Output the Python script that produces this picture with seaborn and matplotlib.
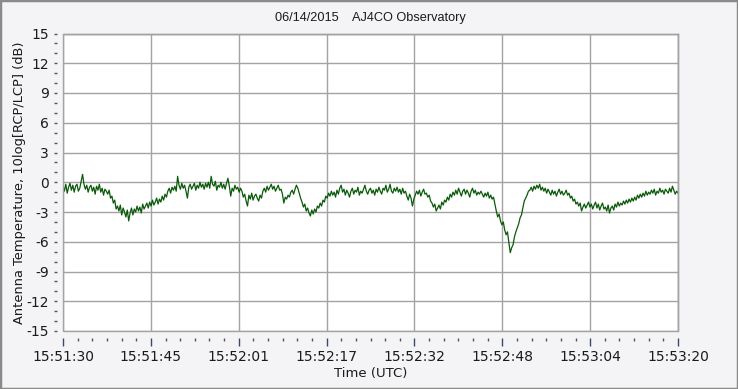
import numpy as np
import pandas as pd
import matplotlib
matplotlib.use("Agg")
import matplotlib.pyplot as plt
import seaborn as sns
from matplotlib.patches import Rectangle
from matplotlib.ticker import FixedLocator, MultipleLocator

# ---- data (one sample every 0.25 s) ----
step_s = 0.25
db_values = [
    -0.4, -0.9, -0.2, -1.1, -0.5, -0.1, -0.8, -0.3, -1.0, -0.4, -0.2, -0.9, -0.6, 0.1, 0.8, -0.2, -0.7, -0.3, -1.0, -0.5,
    -0.3, -0.9, -0.5, -1.2, -0.4, -0.8, -0.2, -1.0, -0.6, -1.3, -0.7, -0.9, -1.2, -0.8, -1.6, -1.4, -2.1, -1.8, -2.7, -2.4,
    -2.9, -2.3, -3.3, -2.6, -3.0, -3.5, -2.8, -3.9, -3.1, -2.6, -3.3, -2.7, -3.0, -2.4, -2.9, -2.5, -3.1, -2.2, -2.7, -2.4,
    -2.1, -2.6, -2.0, -2.4, -1.8, -2.3, -2.0, -1.6, -2.2, -1.7, -2.0, -1.4, -1.8, -1.2, -1.5, -0.9, -0.6, -1.1, -0.5, -0.8,
    -0.4, -0.9, 0.6, -0.3, -0.7, -0.1, -0.6, -0.3, -0.9, -1.6, -0.5, -0.2, -0.7, -0.4, -0.1, -0.8, -0.3, -0.6, 0.0, -0.5,
    -0.2, -0.7, -0.1, -0.5, 0.0, -0.6, 0.6, -0.2, -0.4, 0.1, -0.8, -0.3, -0.5, 0.0, -0.6, -0.2, -0.7, -0.1, 0.4, -0.4,
    -1.4, -0.6, -0.9, -0.3, -0.7, -0.5, -1.0, -0.6, -0.9, -1.5, -1.2, -1.9, -2.4, -1.3, -1.7, -1.1, -1.8, -1.4, -1.2, -1.6,
    -1.9, -1.3, -1.6, -0.9, -0.6, -1.0, -0.4, -0.8, -0.5, -0.2, -0.7, -0.4, -0.9, -0.6, -0.3, -0.8, -0.7, -1.2, -2.1, -1.5,
    -1.7, -1.3, -1.5, -1.0, -0.8, -1.2, -0.7, -0.3, -0.6, -1.1, -1.6, -2.0, -2.5, -2.2, -2.9, -2.6, -3.1, -3.4, -2.8, -3.2,
    -2.7, -3.0, -2.4, -2.6, -2.1, -2.4, -1.8, -2.0, -1.4, -1.6, -1.1, -1.4, -0.9, -1.3, -1.0, -1.5, -0.8, -1.2, -0.6, -0.3,
    -1.0, -0.7, -1.3, -0.8, -1.1, -1.5, -0.9, -0.6, -1.2, -0.8, -1.0, -0.5, -1.3, -0.9, -1.1, -0.7, -0.3, -0.9, -1.2, -0.8,
    -0.6, -1.1, -0.8, -1.3, -0.7, -1.0, -0.5, -0.9, -1.2, -0.6, -0.8, -0.3, -1.0, -0.7, -0.2, -0.9, -1.1, -0.6, -0.9, -0.5,
    -1.0, -0.7, -1.2, -0.6, -1.1, -0.9, -1.4, -1.8, -1.2, -1.6, -2.4, -1.7, -1.3, -0.9, -1.2, -0.8, -1.4, -1.0, -0.7, -1.2,
    -1.1, -1.5, -1.3, -1.9, -2.1, -2.5, -2.2, -2.9, -2.6, -2.3, -2.7, -2.0, -2.3, -1.8, -2.0, -1.5, -1.8, -1.2, -1.5, -1.0,
    -1.3, -0.8, -1.2, -0.6, -1.0, -1.4, -0.9, -0.7, -1.2, -0.8, -1.1, -1.5, -0.9, -0.6, -1.1, -0.8, -1.3, -1.0, -1.2, -0.9,
    -1.2, -1.5, -1.1, -1.4, -1.0, -1.6, -1.3, -1.7, -1.5, -2.2, -2.9, -3.5, -3.2, -3.9, -4.3, -4.0, -4.8, -5.3, -5.0, -6.1,
    -7.1, -6.6, -6.3, -5.5, -5.0, -4.6, -4.2, -3.6, -3.3, -2.6, -1.9, -1.6, -1.3, -0.9, -0.8, -0.5, -0.9, -0.4, -0.7, -0.3,
    -0.6, -0.2, -0.8, -0.5, -0.9, -0.6, -1.1, -0.7, -1.0, -1.3, -0.8, -1.2, -0.9, -1.4, -1.0, -0.7, -1.2, -0.9, -1.3, -1.1,
    -0.8, -1.3, -1.1, -1.6, -1.4, -1.9, -1.7, -2.2, -2.0, -2.4, -2.1, -2.9, -2.5, -2.2, -2.6, -2.3, -2.0, -2.5, -2.2, -2.7,
    -2.3, -2.0, -2.6, -2.2, -2.8, -2.4, -2.1, -2.7, -2.5, -2.9, -2.3, -3.1, -2.6, -2.4, -2.8, -2.2, -2.5, -2.0, -2.4, -2.1,
    -2.3, -1.9, -2.2, -1.8, -2.1, -1.7, -2.0, -1.6, -1.9, -1.5, -1.8, -1.3, -1.6, -1.2, -1.5, -1.1, -1.4, -0.9, -1.3, -1.0,
    -1.2, -0.8, -1.1, -0.7, -1.3, -0.9, -1.1, -0.6, -1.0, -0.8, -1.2, -0.7, -0.9, -1.1, -0.6, -1.0, -0.4, -0.8, -1.2, -0.9,
    -1.1,
]
time_s = [i * step_s for i in range(len(db_values))]

x_tick_labels = ["15:51:30", "15:51:45", "15:52:01", "15:52:17",
                 "15:52:32", "15:52:48", "15:53:04", "15:53:20"]
x_span_s = 110.0
y_ticks = [-15, -12, -9, -6, -3, 0, 3, 6, 9, 12, 15]

title_text = "06/14/2015    AJ4CO Observatory"
x_label = "Time (UTC)"
y_label = "Antenna Temperature, 10log[RCP/LCP] (dB)"

df = pd.DataFrame({"t": time_s, "db": db_values})

# ---- figure ----
sns.set_style("white")
plt.rcParams["font.family"] = ["DejaVu Sans"]
plt.rcParams["axes.unicode_minus"] = False
bg = "#f4f4f6"
W, H = 738, 389
fig = plt.figure(figsize=(W / 100, H / 100), dpi=100, facecolor=bg)
ax = fig.add_axes([63 / W, 1 - 331 / H, (678 - 63) / W, (331 - 33.5) / H])
ax.set_facecolor("white")

sns.lineplot(data=df, x="t", y="db", color="#0a5a0a", linewidth=0.9,
             estimator=None, ax=ax)

ax.set_xlim(0, x_span_s)
ax.set_ylim(-15, 15)

major_x = [x_span_s * k / 7 for k in range(8)]
ax.xaxis.set_major_locator(FixedLocator(major_x))
ax.set_xticklabels(x_tick_labels)
ax.xaxis.set_minor_locator(MultipleLocator(x_span_s / 42))
ax.yaxis.set_major_locator(FixedLocator(y_ticks))
ax.yaxis.set_minor_locator(MultipleLocator(1))

grid_c = "#a3a3a3"
ax.grid(True, which="major", color=grid_c, linewidth=1)
ax.set_axisbelow(True)

for s in ["top", "right"]:
    ax.spines[s].set_color(grid_c)
    ax.spines[s].set_linewidth(1)
ax.spines["left"].set_position(("outward", 4))
ax.spines["bottom"].set_position(("outward", 5))
ax.spines["left"].set_visible(False)
ax.spines["bottom"].set_visible(False)
ax.add_patch(Rectangle((0, 0), 1, 1, transform=ax.transAxes, fill=False,
                       edgecolor=grid_c, linewidth=1, zorder=5, clip_on=False))

tick_c = "#3a4a6a"
ax.tick_params(axis="both", which="both", bottom=True, left=True,
               top=False, right=False)
ax.tick_params(axis="x", which="major", direction="out", length=6, width=1,
               color=tick_c, pad=2.5, labelsize=10, labelcolor="#1a1a1a")
ax.tick_params(axis="x", which="minor", direction="out", length=2.5, width=1,
               color="#555555")
ax.tick_params(axis="y", which="major", direction="out", length=2, width=1,
               color="#555555", pad=4, labelsize=10, labelcolor="#1a1a1a")
ax.tick_params(axis="y", which="minor", direction="out", length=2, width=1,
               color="#555555")
ax.set_xlabel(x_label, fontsize=9.5, color="#1a1a1a")
ax.set_ylabel(y_label, fontsize=9.4, color="#1a1a1a")
ax.yaxis.set_label_coords((19 - 63) / 615, (331 - 183) / 297.5)
ax.xaxis.set_label_coords(0.5, (331 - 373) / 297.5)
ax.xaxis.label.set_va("center")
ax.yaxis.label.set_va("center")

fig.text(370 / W, 1 - 18 / H, title_text, ha="center", va="center",
         fontsize=9.2, color="#1a1a1a", family=["Liberation Sans"])

fig.patches.append(Rectangle((0, 0), 1, 1, transform=fig.transFigure,
                             fill=False, edgecolor="#8a8a8a", linewidth=2.5))

fig.savefig("out.png", dpi=100, facecolor=bg)
